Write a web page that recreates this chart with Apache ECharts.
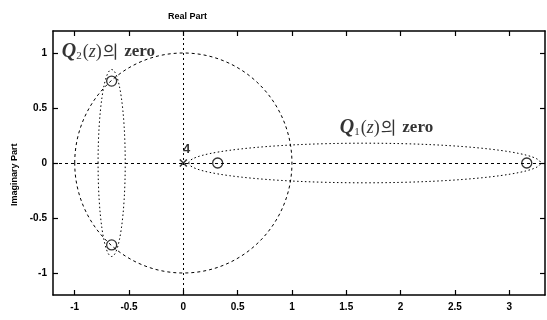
<!DOCTYPE html>
<html>
<head>
<meta charset="utf-8">
<script src="https://cdn.jsdelivr.net/npm/echarts@6/dist/echarts.min.js"></script>
<style>html,body{margin:0;padding:0;background:#fff}#c{width:547px;height:320px}</style>
</head>
<body>
<div id="c"></div>
<script>
// ---- data ----
var xTicks = [-1, -0.5, 0, 0.5, 1, 1.5, 2, 2.5, 3];
var yTicks = [-1, -0.5, 0, 0.5, 1];
var zerosRe = [0.316, 3.162, -0.66, -0.66];
var zerosIm = [0, 0, 0.745, -0.745];
var polesRe = [0];
var polesIm = [0];
var poleMult = ['4'];
// [cx, cy, rx, ry]
var unitCircle = [[0, 0, 1, 1]];
var groupEllipses = [[1.67, 0, 1.62, 0.18], [-0.66, 0, 0.125, 0.85]];
var labelNames = ['Q2', 'Q1'];
var labelRe = [-1.12, 1.44];
var labelIm = [1.01, 0.32];

var zeros = zerosRe.map(function (r, i) { return [r, zerosIm[i]]; });
var poles = polesRe.map(function (r, i) { return [r, polesIm[i], poleMult[i]]; });
var labels = labelRe.map(function (r, i) { return [r, labelIm[i], labelNames[i]]; });

var chart = echarts.init(document.getElementById('c'), null, {renderer: 'canvas'});
var tickFont = {fontFamily: 'Liberation Sans, Arial, sans-serif', fontSize: 10, fontWeight: 'bold', color: '#000'};

function ellipseRender(dash) {
  return function (params, api) {
    var c = api.coord([api.value(0), api.value(1)]);
    var s = api.size([api.value(2), api.value(3)]);
    return {
      type: 'ellipse',
      shape: {cx: c[0], cy: c[1], rx: s[0], ry: s[1]},
      style: {fill: null, stroke: '#000', lineWidth: 1, lineDash: dash}
    };
  };
}

var richLabel = {
  q: {fontFamily: 'Liberation Serif, DejaVu Serif, serif', fontStyle: 'italic', fontWeight: 'bold', fontSize: 20, color: '#000'},
  sub: {fontFamily: 'Liberation Serif, serif', fontSize: 11, color: '#000', verticalAlign: 'bottom', padding: [9, 1, 0, 0]},
  p: {fontFamily: 'Liberation Serif, serif', fontSize: 18, color: '#000'},
  z: {fontFamily: 'Liberation Serif, serif', fontStyle: 'italic', fontSize: 18, color: '#000'},
  k: {fontFamily: 'Noto Sans CJK KR, sans-serif', fontSize: 17, color: '#000', padding: [0, 6, 0, 1]},
  w: {fontFamily: 'Liberation Serif, serif', fontSize: 17, fontWeight: 'bold', color: '#000'}
};

chart.setOption({
  animation: false,
  backgroundColor: '#fff',
  grid: {left: 53, right: 2, top: 31, bottom: 25, containLabel: false},
  title: {
    text: 'Real Part', left: 163, top: 7,
    textStyle: {fontFamily: 'Liberation Sans, Arial, sans-serif', fontSize: 9, fontWeight: 'bold', color: '#000'}
  },
  graphic: [{
    type: 'text', rotation: Math.PI / 2, x: 10, y: 206,
    style: {text: 'Imaginary Part', fontFamily: 'Liberation Sans, Arial, sans-serif', fontSize: 9, fontWeight: 'bold', fill: '#000'}
  }],
  xAxis: [{
    type: 'value', min: -1.2, max: 3.33, position: 'bottom',
    axisLine: {show: true, onZero: false, lineStyle: {color: '#000', width: 1.5}},
    axisTick: {show: true, inside: true, length: 5, customValues: xTicks, lineStyle: {color: '#000', width: 1.2}},
    axisLabel: Object.assign({show: true, margin: 7, customValues: xTicks}, tickFont),
    splitLine: {show: false}
  }, {
    type: 'value', min: -1.2, max: 3.33, position: 'top',
    axisLine: {show: true, onZero: false, lineStyle: {color: '#000', width: 1.5}},
    axisTick: {show: true, inside: true, length: 5, customValues: xTicks, lineStyle: {color: '#000', width: 1.2}},
    axisLabel: {show: false},
    splitLine: {show: false}
  }],
  yAxis: [{
    type: 'value', min: -1.2, max: 1.2, position: 'left',
    axisLine: {show: true, onZero: false, lineStyle: {color: '#000', width: 1.5}},
    axisTick: {show: true, inside: true, length: 5, customValues: yTicks, lineStyle: {color: '#000', width: 1.2}},
    axisLabel: Object.assign({show: true, margin: 6, customValues: yTicks}, tickFont),
    splitLine: {show: false}
  }, {
    type: 'value', min: -1.2, max: 1.2, position: 'right',
    axisLine: {show: true, onZero: false, lineStyle: {color: '#000', width: 1.5}},
    axisTick: {show: true, inside: true, length: 5, customValues: yTicks, lineStyle: {color: '#000', width: 1.2}},
    axisLabel: {show: false},
    splitLine: {show: false}
  }],
  series: [{
    type: 'custom', name: 'unit', renderItem: ellipseRender([3, 3]), data: unitCircle, silent: true, z: 2,
    markLine: {
      silent: true, symbol: ['none', 'none'], label: {show: false},
      data: [
        {xAxis: 0, lineStyle: {color: '#000', type: [2, 3], width: 1}},
        {yAxis: 0, lineStyle: {color: '#000', type: [3, 3], width: 1}}
      ]
    }
  }, {
    type: 'custom', name: 'groups', renderItem: ellipseRender([1.5, 2.5]), data: groupEllipses, silent: true, z: 2
  }, {
    type: 'scatter', name: 'zeros', data: zeros, symbol: 'circle', symbolSize: 10, z: 5,
    itemStyle: {color: 'rgba(0,0,0,0)', borderColor: '#000', borderWidth: 1.3}
  }, {
    type: 'scatter', name: 'poles', data: poles, symbol: 'path://M0,0L10,10M10,0L0,10', symbolSize: 7, z: 5,
    itemStyle: {color: 'rgba(0,0,0,0)', borderColor: '#000', borderWidth: 1.5},
    label: {
      show: true, position: [4, -16], formatter: function (p) { return p.data[2]; },
      fontFamily: 'Liberation Sans, Arial, sans-serif', fontSize: 13, fontWeight: 'bold', color: '#000'
    }
  }, {
    type: 'scatter', name: 'labels', data: labels, symbolSize: 0, z: 6, silent: true,
    label: {
      show: true, position: 'right', distance: 0,
      formatter: function (p) {
        var n = p.data[2].charAt(1);
        return '{q|Q}{sub|' + n + '}{p|(}{z|z}{p|)}{k|의}{w|zero}';
      },
      rich: richLabel
    }
  }]
});
</script>
</body>
</html>
